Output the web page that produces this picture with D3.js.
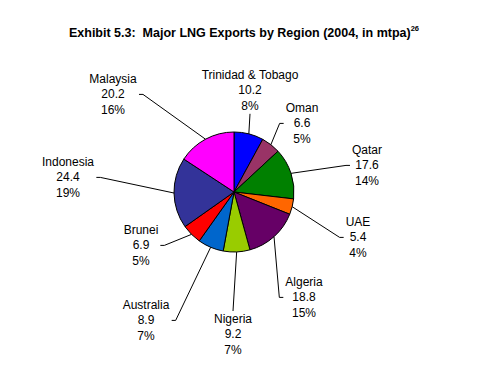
<!DOCTYPE html>
<html>
<head>
<meta charset="utf-8">
<script src="https://cdn.jsdelivr.net/npm/d3@7"></script>
<style>
  body { margin: 0; background: #fff; }
  text { font-family: Arial, "Liberation Sans", sans-serif; fill: #000; }
</style>
</head>
<body>
<div id="chart"></div>
<script>
// Data read from the exhibit, clockwise from 12 o'clock
const regions = ["Trinidad & Tobago", "Oman", "Qatar", "UAE", "Algeria",
                 "Nigeria", "Australia", "Brunei", "Indonesia", "Malaysia"];
const exports = [10.2, 6.6, 17.6, 5.4, 18.8, 9.2, 8.9, 6.9, 24.4, 20.2];
const colors = ["#0000FF", "#993366", "#008000", "#FF6600", "#660066",
                "#99CC00", "#0066CC", "#FF0000", "#333399", "#FF00FF"];

// where each label sits (centre of first line) and which side the leader attaches
const labelPos = [
  [250, 75, "t"], [302, 108, "r"], [367, 150, "r"], [358, 222, "r"], [304, 282, "r"],
  [233, 319, "b"], [146, 305, "l"], [141, 230, "l"], [68, 162, "l"], [113, 79, "l"]
];

const width = 479, height = 379;
const cx = 234, cy = 192, radius = 60;
const lineH = 15.4;

const svg = d3.select("#chart").append("svg")
    .attr("width", width)
    .attr("height", height);

// Title
const title = svg.append("text")
    .attr("x", 244)
    .attr("y", 37)
    .attr("text-anchor", "middle")
    .style("font-size", "12.5px")
    .style("font-weight", "bold");
title.append("tspan").text("Exhibit 5.3:\u00a0 Major LNG Exports by Region (2004, in mtpa)");
title.append("tspan")
    .attr("dy", -6)
    .style("font-size", "7.5px")
    .text("26");

const total = d3.sum(exports);
const data = regions.map((r, i) => ({ name: r, value: exports[i], color: colors[i], pos: labelPos[i] }));

const pie = d3.pie().value(d => d.value).sort(null);
const arc = d3.arc().innerRadius(0).outerRadius(radius);
const arcs = pie(data);

const g = svg.append("g").attr("transform", `translate(${cx},${cy})`);

g.selectAll("path.slice")
    .data(arcs)
  .enter().append("path")
    .attr("class", "slice")
    .attr("d", arc)
    .attr("fill", d => d.data.color)
    .attr("stroke", "#000")
    .attr("stroke-width", 1);

// Labels
const labels = svg.selectAll("g.label")
    .data(arcs)
  .enter().append("g")
    .attr("class", "label");

labels.each(function(d) {
  const [lx, ly] = d.data.pos;
  const lines = [d.data.name, d3.format(".1f")(d.data.value),
                 Math.round(d.data.value / total * 100) + "%"];
  const sel = d3.select(this);
  lines.forEach((t, i) => {
    sel.append("text")
        .attr("x", lx)
        .attr("y", ly + i * lineH + 4)
        .attr("text-anchor", "middle")
        .style("font-size", "12px")
        .text(t);
  });
});

// Leader lines from the slice edge to its label box
labels.each(function(d) {
  const [lx, ly, side] = d.data.pos;
  const texts = d3.select(this).selectAll("text").nodes();
  const vb = texts[1].getBBox();
  const all = this.getBBox();
  const mid = (d.startAngle + d.endAngle) / 2;
  const ex = cx + Math.sin(mid) * radius;
  const ey = cy - Math.cos(mid) * radius;
  const y = vb.y + vb.height / 2;
  let pts;
  if (side === "t") {
    pts = [[lx, all.y + all.height + 1], [ex, ey]];
  } else if (side === "b") {
    pts = [[lx, all.y - 1], [ex, ey]];
  } else if (side === "r") {
    pts = [[all.x - 2, y], [all.x - 6, y], [ex, ey]];
  } else {
    pts = [[all.x + all.width + 2, y], [all.x + all.width + 6, y], [ex, ey]];
  }
  svg.append("path")
      .attr("d", d3.line()(pts))
      .attr("fill", "none")
      .attr("stroke", "#000")
      .attr("stroke-width", 1);
});
</script>
</body>
</html>
